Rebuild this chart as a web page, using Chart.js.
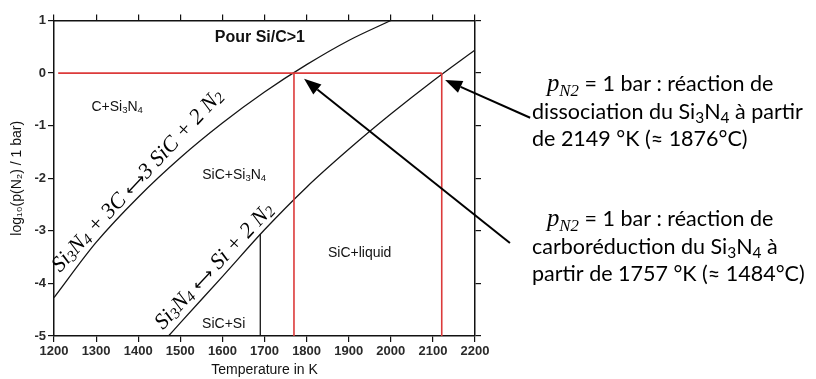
<!DOCTYPE html>
<html>
<head>
<meta charset="utf-8">
<script src="https://cdn.jsdelivr.net/npm/chart.js@4.4.1/dist/chart.umd.min.js"></script>
<style>
  body { margin: 0; background: #fff; }
  #myChart { display: block; }
</style>
</head>
<body>
<canvas id="myChart" width="816" height="379"></canvas>
<script>
// values (T in K, log10 p(N2))
const upperT = [1200, 1300, 1400, 1500, 1600, 1700, 1800, 1900, 2000];
const upperLogP = [-4.27, -3.22, -2.36, -1.61, -0.95, -0.36, 0.16, 0.62, 1.0];

const lowerT = [1472, 1500, 1600, 1700, 1800, 1900, 2000, 2100, 2200];
const lowerLogP = [-5, -4.75, -3.87, -2.98, -2.17, -1.45, -0.78, -0.15, 0.44];

const siMeltT = [1690, 1690];
const siMeltLogP = [-5, -3.06];

const oneBarT = [1210, 2121];
const oneBarLogP = [0, 0];
const carboT = [1770, 1770];
const dissoT = [2121, 2121];
const redLogP = [-5, 0];

const xTicks = [1200, 1300, 1400, 1500, 1600, 1700, 1800, 1900, 2000, 2100, 2200];
const yTicks = [-5, -4, -3, -2, -1, 0, 1];

const SANS = '"Liberation Sans", Arial, sans-serif';
const SERIF = '"Liberation Serif", "DejaVu Serif", serif';
const NOTE = 'Lato, "Open Sans", sans-serif';

function pts(xs, ys) {
  return xs.map(function(x, i) { return { x: x, y: ys[i] }; });
}

function lineSet(xs, ys, color, width, smooth) {
  return {
    data: pts(xs, ys),
    showLine: true,
    borderColor: color,
    borderWidth: width,
    pointRadius: 0,
    cubicInterpolationMode: smooth ? 'monotone' : 'default',
    tension: 0
  };
}

const arrowFont = { family: '"DejaVu Sans", sans-serif', scale: 0.75 };

// "Si_3N_4" -> runs of normal / subscript text
function toParts(str, font) {
  const parts = [];
  for (let i = 0; i < str.length; i++) {
    let sub = false, ch = str[i];
    if (ch === '_') { sub = true; ch = str[++i]; }
    const f = (ch === '\u27F7' && font.arrows) ? arrowFont : font;
    const last = parts[parts.length - 1];
    if (last && last.sub === sub && last.font === f) last.t += ch;
    else parts.push({ t: ch, sub: sub, font: f, scale: f.scale });
  }
  return parts;
}

function fontOf(p, size) {
  let s = p.sub ? size * (p.font.subSize || 0.68) : size;
  if (p.scale) s *= p.scale;
  return (p.font.style || 'normal') + ' ' + (p.font.weight || 'normal') + ' ' + s + 'px ' + p.font.family;
}

function drawParts(ctx, parts, x, y, size, align) {
  const widths = parts.map(function(p) { ctx.font = fontOf(p, size); return ctx.measureText(p.t).width; });
  const total = widths.reduce(function(a, b) { return a + b; }, 0);
  let cx = align === 'center' ? x - total / 2 : x;
  parts.forEach(function(p, i) {
    ctx.font = fontOf(p, size);
    const drop = p.sub ? size * (p.font.subDrop || 0.22) * (p.scale || 1) : 0;
    ctx.fillText(p.t, cx, y + drop);
    cx += widths[i];
  });
}

function drawArrow(ctx, x1, y1, x2, y2) {
  const a = Math.atan2(y2 - y1, x2 - x1);
  const len = 17, half = 6.5;
  const bx = x2 - len * Math.cos(a), by = y2 - len * Math.sin(a);
  ctx.beginPath();
  ctx.moveTo(x1, y1);
  ctx.lineTo(bx, by);
  ctx.lineWidth = 2;
  ctx.strokeStyle = '#000';
  ctx.stroke();
  ctx.beginPath();
  ctx.moveTo(x2, y2);
  ctx.lineTo(bx + half * Math.sin(a), by - half * Math.cos(a));
  ctx.lineTo(bx - half * Math.sin(a), by + half * Math.cos(a));
  ctx.closePath();
  ctx.fillStyle = '#000';
  ctx.fill();
}

const plainFont = { family: SANS };
const boldFont = { family: SANS, weight: 'bold' };
const mathFont = { family: SERIF, style: 'italic' };
const eqFont = { family: SERIF, style: 'italic', subSize: 0.7, subDrop: 0.1, arrows: true };
const noteFont = { family: NOTE, subSize: 0.72 };

const regions = [
  { text: 'Pour Si/C>1', T: 1689, v: 0.67, size: 16, font: boldFont },
  { text: 'C+Si_3N_4', T: 1350, v: -0.645, size: 14, font: plainFont },
  { text: 'SiC+Si_3N_4', T: 1628, v: -1.94, size: 14, font: plainFont },
  { text: 'SiC+liquid', T: 1926, v: -3.42, size: 14, font: plainFont },
  { text: 'SiC+Si', T: 1603, v: -4.77, size: 14, font: plainFont }
];

const reactions = [
  { text: 'Si_3N_4 + 3C \u27F73 SiC + 2 N_2', T: 1214, v: -3.80, angle: -47, size: 22 },
  { text: 'Si_3N_4 \u27F7 Si + 2 N_2', T: 1459, v: -4.89, angle: -47, size: 22 }
];

const arrows = [
  { tailT: 2331, tailV: -0.85, tipT: 2129, tipV: -0.13 },
  { tailT: 2283, tailV: -3.23, tipT: 1794, tipV: -0.11 }
];

const notes = [
  { x: 532, y: 91, lines: ['dissociation du Si_3N_4 à partir', 'de 2149 °K (≈ 1876°C)'] },
  { x: 532, y: 226, lines: ['carboréduction du Si_3N_4 à', 'partir de 1757 °K (≈ 1484°C)'] }
];

const overlay = {
  id: 'overlay',
  afterDatasetsDraw: function(chart) {
    const ctx = chart.ctx;
    const xs = chart.scales.x, ys = chart.scales.y;
    ctx.save();
    ctx.fillStyle = '#111';
    ctx.textBaseline = 'middle';
    regions.forEach(function(r) {
      drawParts(ctx, toParts(r.text, r.font), xs.getPixelForValue(r.T), ys.getPixelForValue(r.v), r.size, 'center');
    });
    ctx.textBaseline = 'alphabetic';
    reactions.forEach(function(r) {
      ctx.save();
      ctx.translate(xs.getPixelForValue(r.T), ys.getPixelForValue(r.v));
      ctx.rotate(r.angle * Math.PI / 180);
      ctx.fillStyle = '#000';
      drawParts(ctx, toParts(r.text, eqFont), 0, 0, r.size, 'left');
      ctx.restore();
    });
    arrows.forEach(function(a) {
      drawArrow(ctx, xs.getPixelForValue(a.tailT), ys.getPixelForValue(a.tailV),
                xs.getPixelForValue(a.tipT), ys.getPixelForValue(a.tipV));
    });
    ctx.fillStyle = '#000';
    notes.forEach(function(n) {
      const head = [{ t: 'p', sub: false, font: mathFont, scale: 1.15 },
                    { t: 'N2', sub: true, font: mathFont, scale: 1.15 },
                    { t: ' = 1 bar : réaction de', sub: false, font: noteFont }];
      drawParts(ctx, head, n.x + 15, n.y, 21.5, 'left');
      n.lines.forEach(function(l, i) {
        drawParts(ctx, toParts(l, noteFont), n.x, n.y + 27.5 * (i + 1), 21.5, 'left');
      });
    });
    ctx.restore();
  }
};

const axisGrid = { drawOnChartArea: false, drawTicks: true, tickLength: 6, color: '#111', lineWidth: 1.2 };
const axisBorder = { display: true, color: '#111', width: 1.5 };
const tickFont = { family: SANS, size: 13, weight: 'bold' };
const plainTick = function(v) { return String(v); };

const config = {
  type: 'scatter',
  data: {
    datasets: [
      lineSet(oneBarT, oneBarLogP, '#dc3a3a', 1.6, false),
      lineSet(carboT, redLogP, '#dc3a3a', 1.6, false),
      lineSet(dissoT, redLogP, '#dc3a3a', 1.6, false),
      lineSet(upperT, upperLogP, '#151515', 1.3, true),
      lineSet(lowerT, lowerLogP, '#151515', 1.3, true),
      lineSet(siMeltT, siMeltLogP, '#151515', 1.3, false)
    ]
  },
  options: {
    responsive: false,
    animation: false,
    layout: { padding: 0 },
    plugins: { legend: { display: false }, tooltip: { enabled: false } },
    scales: {
      x: {
        type: 'linear', position: 'bottom', min: 1200, max: 2200,
        afterBuildTicks: function(s) { s.ticks = xTicks.map(function(v) { return { value: v }; }); },
        ticks: { font: tickFont, color: '#2a2a2a', padding: 2, maxRotation: 0, callback: plainTick },
        grid: axisGrid, border: axisBorder,
        title: { display: true, text: 'Temperature in K', font: { family: SANS, size: 14 }, color: '#111', padding: 0 },
        afterFit: function(s) { s.height = 43; }
      },
      x2: {
        type: 'linear', position: 'top', min: 1200, max: 2200,
        afterBuildTicks: function(s) { s.ticks = xTicks.map(function(v) { return { value: v }; }); },
        ticks: { display: false },
        grid: axisGrid, border: axisBorder,
        afterFit: function(s) { s.height = 20.5; }
      },
      y: {
        type: 'linear', position: 'left', min: -5, max: 1,
        afterBuildTicks: function(s) { s.ticks = yTicks.map(function(v) { return { value: v }; }); },
        ticks: { font: tickFont, color: '#2a2a2a', padding: 2, callback: plainTick },
        grid: axisGrid, border: axisBorder,
        title: { display: true, text: 'log\u2081\u2080(p(N\u2082) / 1 bar)', font: { family: SANS, size: 14 }, color: '#111', padding: { top: 9, bottom: 0 } },
        afterFit: function(s) { s.width = 54; }
      },
      y2: {
        type: 'linear', position: 'right', min: -5, max: 1,
        afterBuildTicks: function(s) { s.ticks = yTicks.map(function(v) { return { value: v }; }); },
        ticks: { display: false },
        grid: axisGrid, border: axisBorder,
        afterFit: function(s) { s.width = 341; }
      }
    }
  },
  plugins: [overlay]
};

var myChart = new Chart(document.getElementById('myChart'), config);
</script>
</body>
</html>
